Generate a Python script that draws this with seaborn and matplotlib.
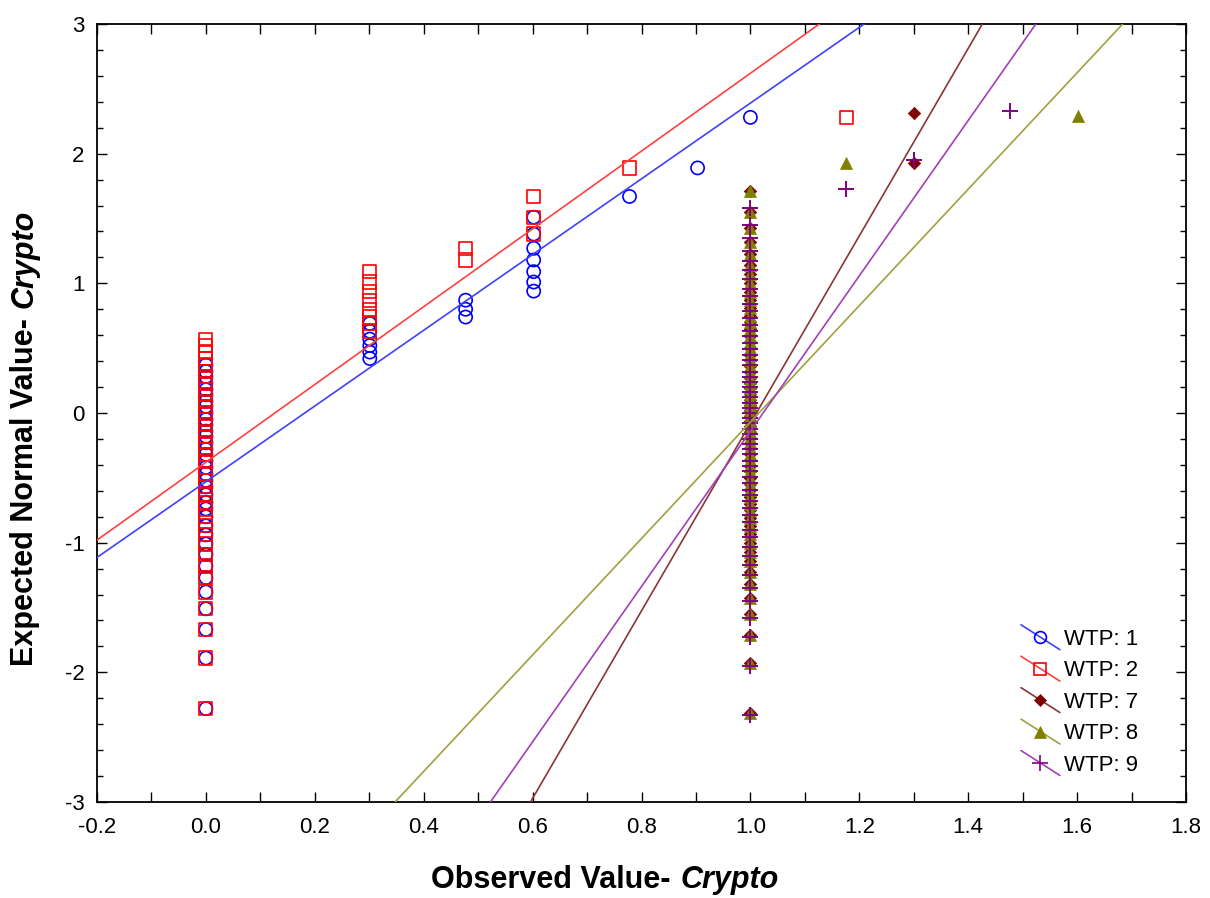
import numpy as np
import pandas as pd
import seaborn as sns
import matplotlib
matplotlib.use("Agg")
import matplotlib.pyplot as plt
from matplotlib.lines import Line2D
from matplotlib.legend_handler import HandlerBase
from matplotlib.ticker import MultipleLocator, FormatStrFormatter

# ---------------- data ----------------
groups = ["WTP: 1", "WTP: 2", "WTP: 7", "WTP: 8", "WTP: 9"]

# observed values (distinct levels) and how many cases sit at each level
obs_levels_1 = [0.0, 0.301, 0.477, 0.602, 0.778, 0.903, 1.0]
obs_counts_1 = [36, 6, 3, 7, 1, 1, 1]
obs_levels_2 = [0.0, 0.301, 0.477, 0.602, 0.778, 1.176]
obs_counts_2 = [40, 8, 2, 3, 1, 1]
obs_levels_7 = [1.0, 1.301]
obs_counts_7 = [58, 2]
obs_levels_8 = [1.0, 1.176, 1.602]
obs_counts_8 = [58, 1, 1]
obs_levels_9 = [1.0, 1.176, 1.301, 1.477]
obs_counts_9 = [60, 1, 1, 1]

# expected normal values (sorted, one per case)
expected_1 = [-2.28, -1.89, -1.67, -1.51, -1.38, -1.27, -1.18, -1.09, -1.01, -0.94,
              -0.87, -0.80, -0.74, -0.69, -0.63, -0.57, -0.52, -0.47, -0.42, -0.37,
              -0.32, -0.28, -0.23, -0.18, -0.14, -0.09, -0.05, 0.00, 0.05, 0.09,
              0.14, 0.18, 0.23, 0.28, 0.32, 0.37, 0.42, 0.47, 0.52, 0.57,
              0.63, 0.69, 0.74, 0.80, 0.87, 0.94, 1.01, 1.09, 1.18, 1.27,
              1.38, 1.51, 1.67, 1.89, 2.28]
expected_2 = [-2.28, -1.89, -1.67, -1.51, -1.38, -1.27, -1.18, -1.09, -1.01, -0.94,
              -0.87, -0.80, -0.74, -0.69, -0.63, -0.57, -0.52, -0.47, -0.42, -0.37,
              -0.32, -0.28, -0.23, -0.18, -0.14, -0.09, -0.05, 0.00, 0.05, 0.09,
              0.14, 0.18, 0.23, 0.28, 0.32, 0.37, 0.42, 0.47, 0.52, 0.57,
              0.63, 0.69, 0.74, 0.80, 0.87, 0.94, 1.01, 1.09, 1.18, 1.27,
              1.38, 1.51, 1.67, 1.89, 2.28]
expected_7 = [-2.31, -1.93, -1.71, -1.55, -1.43, -1.32, -1.23, -1.14, -1.07, -1.00,
              -0.93, -0.87, -0.81, -0.75, -0.70, -0.65, -0.59, -0.55, -0.50, -0.45,
              -0.41, -0.36, -0.32, -0.27, -0.23, -0.19, -0.15, -0.10, -0.06, -0.02,
              0.02, 0.06, 0.10, 0.15, 0.19, 0.23, 0.27, 0.32, 0.36, 0.41,
              0.45, 0.50, 0.55, 0.59, 0.65, 0.70, 0.75, 0.81, 0.87, 0.93,
              1.00, 1.07, 1.14, 1.23, 1.32, 1.43, 1.55, 1.71, 1.93, 2.31]
expected_8 = [-2.31, -1.93, -1.71, -1.55, -1.43, -1.32, -1.23, -1.14, -1.07, -1.00,
              -0.93, -0.87, -0.81, -0.75, -0.70, -0.65, -0.59, -0.55, -0.50, -0.45,
              -0.41, -0.36, -0.32, -0.27, -0.23, -0.19, -0.15, -0.10, -0.06, -0.02,
              0.02, 0.06, 0.10, 0.15, 0.19, 0.23, 0.27, 0.32, 0.36, 0.41,
              0.45, 0.50, 0.55, 0.59, 0.65, 0.70, 0.75, 0.81, 0.87, 0.93,
              1.00, 1.07, 1.14, 1.23, 1.32, 1.43, 1.55, 1.71, 1.93, 2.29]
expected_9 = [-2.33, -1.95, -1.73, -1.58, -1.45, -1.35, -1.25, -1.17, -1.10, -1.03,
              -0.96, -0.90, -0.84, -0.79, -0.73, -0.68, -0.63, -0.59, -0.54, -0.49,
              -0.45, -0.41, -0.37, -0.32, -0.28, -0.24, -0.20, -0.16, -0.12, -0.08,
              -0.04, 0.00, 0.04, 0.08, 0.12, 0.16, 0.20, 0.24, 0.28, 0.32,
              0.37, 0.41, 0.45, 0.49, 0.54, 0.59, 0.63, 0.68, 0.73, 0.79,
              0.84, 0.90, 0.96, 1.03, 1.10, 1.17, 1.25, 1.35, 1.45, 1.58,
              1.73, 1.95, 2.33]

# fitted reference lines (intercept, slope)
fit_intercept = [-0.53, -0.38, -7.31, -4.56, -6.13]
fit_slope = [2.92, 3.00, 7.23, 4.49, 5.99]

x_ticks = [-0.2, 0.0, 0.2, 0.4, 0.6, 0.8, 1.0, 1.2, 1.4, 1.6, 1.8]
y_ticks = [-3, -2, -1, 0, 1, 2, 3]

# ---------------- styling ----------------
sns.set_style("ticks")
plt.rcParams["font.family"] = ["Liberation Sans", "DejaVu Sans"]
plt.rcParams["axes.unicode_minus"] = False
plt.rcParams["text.color"] = "black"
plt.rcParams["axes.labelcolor"] = "black"
plt.rcParams["xtick.color"] = "black"
plt.rcParams["ytick.color"] = "black"

levels = [obs_levels_1, obs_levels_2, obs_levels_7, obs_levels_8, obs_levels_9]
counts = [obs_counts_1, obs_counts_2, obs_counts_7, obs_counts_8, obs_counts_9]
expected = [expected_1, expected_2, expected_7, expected_8, expected_9]

frames = []
for g, lv, ct, ex in zip(groups, levels, counts, expected):
    frames.append(pd.DataFrame({"group": g, "observed": np.repeat(lv, ct), "expected": ex}))
df = pd.concat(frames, ignore_index=True)

styles = {
    "WTP: 1": dict(marker="o", fill=False, color="#0000ff", line="#4040ff", s=90),
    "WTP: 2": dict(marker="s", fill=False, color="#ff0000", line="#ff4040", s=90),
    "WTP: 7": dict(marker="D", fill=True, color="#800000", line="#8a3535", s=40),
    "WTP: 8": dict(marker="^", fill=True, color="#808000", line="#a0a040", s=75),
    "WTP: 9": dict(marker="+", fill=False, color="#800080", line="#a040b8", s=130),
}

fig = plt.figure(figsize=(12.10, 8.98), dpi=100)
ax = fig.add_axes([97 / 1210, 1 - 802 / 898, (1186 - 97) / 1210, (802 - 24) / 898])

for g in groups:
    st = styles[g]
    sub = df[df["group"] == g]
    if st["marker"] == "+":
        sns.scatterplot(data=sub, x="observed", y="expected", marker="+", color=st["color"],
                        s=st["s"], linewidth=1.4, ax=ax, legend=False, zorder=3)
    elif st["fill"]:
        sns.scatterplot(data=sub, x="observed", y="expected", marker=st["marker"],
                        color=st["color"], edgecolor=st["color"], linewidth=0.5,
                        s=st["s"], ax=ax, legend=False, zorder=3)
    else:
        sns.scatterplot(data=sub, x="observed", y="expected", marker=st["marker"],
                        facecolor="none", edgecolor=st["color"], linewidth=1.2,
                        s=st["s"], ax=ax, legend=False, zorder=3)

for g, b0, b1 in zip(groups, fit_intercept, fit_slope):
    ax.axline((0, b0), slope=b1, color=styles[g]["line"], lw=1.2, zorder=4)

ax.set_xlim(-0.2, 1.8)
ax.set_ylim(-3, 3)
ax.set_xticks(x_ticks)
ax.set_yticks(y_ticks)
ax.xaxis.set_major_formatter(FormatStrFormatter("%.1f"))
ax.xaxis.set_minor_locator(MultipleLocator(0.1))
ax.yaxis.set_minor_locator(MultipleLocator(0.2))
ax.tick_params(axis="both", which="both", direction="in", top=True, right=True,
               colors="black", labelsize=16, width=1)
ax.tick_params(axis="both", which="major", length=7)
ax.tick_params(axis="x", which="minor", length=7)
ax.tick_params(axis="y", which="minor", length=4)
ax.tick_params(axis="x", which="major", pad=11)
ax.tick_params(axis="y", which="major", pad=9)
for sp in ax.spines.values():
    sp.set_visible(True)
    sp.set_color("black")
    sp.set_linewidth(1.3)
ax.set_xlabel("")
ax.set_ylabel("")

# axis titles: bold with bold-italic "Crypto"
tx = fig.text(431 / 1210, 1 - 880 / 898, "Observed Value- ", fontsize=22, fontweight="bold",
              ha="left", va="center")
ax.annotate("Crypto", xy=(1, 0.5), xycoords=tx, xytext=(1, 0), textcoords="offset points",
            fontsize=22, fontweight="bold", fontstyle="italic", ha="left", va="center",
            annotation_clip=False)
ty = fig.text(25 / 1210, 1 - 666 / 898, "Expected Normal Value- ", fontsize=22,
              fontweight="bold", rotation=90, ha="center", va="bottom")
ax.annotate("Crypto", xy=(0.5, 1), xycoords=ty, xytext=(0, 1), textcoords="offset points",
            fontsize=22, fontweight="bold", fontstyle="italic", rotation=90,
            ha="center", va="bottom", annotation_clip=False)


# legend with diagonal handles
class DiagHandler(HandlerBase):
    def create_artists(self, legend, orig_handle, xdescent, ydescent, width, height,
                       fontsize, trans):
        x0, x1 = -xdescent, -xdescent + width
        y0, y1 = -ydescent + height * 1.3, -ydescent - height * 0.3
        ln = Line2D([x0, x1], [y0, y1], color=orig_handle.get_color(),
                    lw=orig_handle.get_linewidth(), transform=trans)
        mk = Line2D([(x0 + x1) / 2], [(y0 + y1) / 2], marker=orig_handle.get_marker(),
                    markersize=orig_handle.get_markersize(),
                    markerfacecolor=orig_handle.get_markerfacecolor(),
                    markeredgecolor=orig_handle.get_markeredgecolor(),
                    markeredgewidth=orig_handle.get_markeredgewidth(),
                    linestyle="none", transform=trans)
        return [ln, mk]


handles = []
for g in groups:
    st = styles[g]
    ms = {"o": 8.5, "s": 8.5, "D": 6.5, "^": 9, "+": 11}[st["marker"]]
    handles.append(Line2D([], [], color=st["line"], lw=1.2, marker=st["marker"],
                          markersize=ms,
                          markerfacecolor=st["color"] if st["fill"] else "none",
                          markeredgecolor=st["color"],
                          markeredgewidth=1.2 if not st["fill"] else 0.5))

leg = ax.legend(handles, groups, handler_map={Line2D: DiagHandler()},
                loc="upper left", bbox_to_anchor=(1021 / 1210, 1 - 629 / 898),
                bbox_transform=fig.transFigure, frameon=False, fontsize=16,
                handlelength=1.75, handletextpad=0.2, labelspacing=0.47,
                borderpad=0, borderaxespad=0)

fig.savefig("out.png", dpi=100)
